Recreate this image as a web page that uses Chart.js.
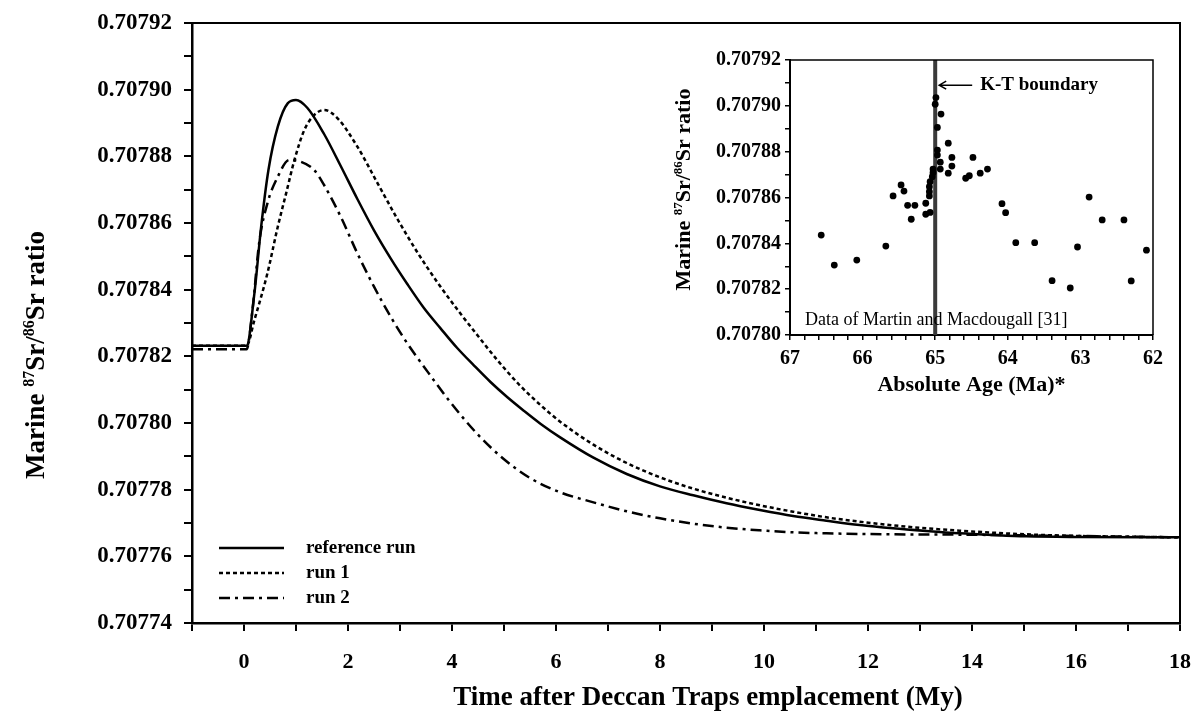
<!DOCTYPE html>
<html><head><meta charset="utf-8">
<script src="https://cdn.jsdelivr.net/npm/chart.js@4.4.1/dist/chart.umd.min.js"></script>
<style>
html,body{margin:0;padding:0;background:#fff;}
#wrap{position:relative;width:1196px;height:721px;overflow:hidden;background:#fff;}
#main{position:absolute;left:0;top:0;}
#inset{position:absolute;left:665px;top:40px;}
</style></head><body>
<div id="wrap"><canvas id="main" width="1196" height="721"></canvas><canvas id="inset" width="520" height="360"></canvas></div>
<script>
// ---------- main chart data ----------
const refX = [-1, 0.05, 0.2, 0.33, 0.47, 0.65, 0.84, 1.0, 1.22, 1.54, 1.86, 2.18, 2.5, 2.82, 3.14, 3.46, 3.78, 4.1, 4.42, 4.74, 5.06, 5.38, 5.7, 6.08, 6.72, 7.36, 8.0, 8.64, 9.28, 9.92, 10.56, 11.2, 11.84, 12.48, 13.12, 13.76, 14.4, 15.04, 16.07, 18];
const refY = [0.7078232, 0.7078232, 0.7078389, 0.7078589, 0.7078759, 0.7078889, 0.7078959, 0.7078969, 0.7078945, 0.7078867, 0.7078771, 0.7078672, 0.7078578, 0.7078494, 0.7078417, 0.7078345, 0.7078284, 0.7078225, 0.7078173, 0.7078123, 0.7078078, 0.7078037, 0.7077998, 0.7077957, 0.7077896, 0.7077847, 0.7077810, 0.7077783, 0.7077759, 0.7077739, 0.7077721, 0.7077707, 0.7077694, 0.7077684, 0.7077676, 0.7077669, 0.7077664, 0.7077660, 0.7077658, 0.7077657];
const run1X = [-1, 0.05, 0.2, 0.45, 0.65, 0.81, 0.97, 1.16, 1.35, 1.54, 1.8, 2.18, 2.57, 2.95, 3.33, 3.72, 4.1, 4.49, 4.87, 5.28, 5.7, 6.08, 6.72, 7.36, 8.0, 8.64, 9.28, 9.92, 10.56, 11.2, 11.84, 12.48, 13.12, 13.76, 14.4, 15.04, 16.07, 18];
const run1Y = [0.7078232, 0.7078232, 0.7078309, 0.7078449, 0.7078589, 0.7078689, 0.7078789, 0.7078879, 0.7078924, 0.7078939, 0.7078914, 0.7078829, 0.7078719, 0.7078612, 0.7078513, 0.7078422, 0.7078341, 0.7078263, 0.7078189, 0.7078117, 0.7078054, 0.7078004, 0.7077935, 0.7077880, 0.7077837, 0.7077803, 0.7077776, 0.7077753, 0.7077734, 0.7077717, 0.7077704, 0.7077693, 0.7077684, 0.7077677, 0.7077671, 0.7077666, 0.7077661, 0.7077657];
const run2X = [-1, 0.05, 0.17, 0.29, 0.45, 0.65, 0.87, 1.09, 1.35, 1.54, 1.86, 2.18, 2.5, 2.82, 3.14, 3.46, 4.0, 4.5, 5.0, 5.5, 6.08, 6.72, 7.36, 8.0, 8.64, 9.28, 9.92, 10.56, 11.2, 12.48, 13.76, 16.07, 18];
const run2Y = [0.7078221, 0.7078221, 0.7078349, 0.7078539, 0.7078659, 0.7078739, 0.7078789, 0.7078784, 0.7078759, 0.7078714, 0.7078619, 0.7078509, 0.7078409, 0.7078319, 0.7078239, 0.7078169, 0.7078056, 0.7077965, 0.7077891, 0.7077835, 0.7077792, 0.7077762, 0.7077735, 0.7077714, 0.7077698, 0.7077686, 0.7077678, 0.7077672, 0.7077669, 0.7077666, 0.7077665, 0.7077661, 0.7077657];
const seriesNames = ['reference run', 'run 1', 'run 2'];

const mainXTicks = [-1, 0, 1, 2, 3, 4, 5, 6, 7, 8, 9, 10, 11, 12, 13, 14, 15, 16, 17, 18];
const mainXLabels = ['0', '2', '4', '6', '8', '10', '12', '14', '16', '18'];
const mainYTicks = [0.70774, 0.70775, 0.70776, 0.70777, 0.70778, 0.70779, 0.70780, 0.70781, 0.70782, 0.70783, 0.70784, 0.70785, 0.70786, 0.70787, 0.70788, 0.70789, 0.70790, 0.70791, 0.70792];
const mainYLabels = ['0.70774', '0.70776', '0.70778', '0.70780', '0.70782', '0.70784', '0.70786', '0.70788', '0.70790', '0.70792'];

// ---------- inset data (Martin and Macdougall) ----------
const martinAge = [66.57, 66.39, 66.08, 65.68, 65.58, 65.47, 65.43, 65.38, 65.33, 65.28, 65.13, 65.13, 65.07, 65.08, 65.08, 65.08, 65.07, 65.04, 65.03, 65.03, 64.99, 65.0, 64.92, 64.97, 64.97, 64.97, 64.93, 64.93, 64.82, 64.82, 64.77, 64.77, 64.58, 64.53, 64.48, 64.38, 64.28, 64.08, 64.03, 63.89, 63.63, 63.39, 63.14, 63.04, 62.88, 62.70, 62.40, 62.30, 62.09];
const martinSr = [0.7078436, 0.7078305, 0.7078327, 0.7078388, 0.7078607, 0.7078655, 0.7078628, 0.7078566, 0.7078505, 0.7078566, 0.7078575, 0.7078527, 0.7078535, 0.7078607, 0.7078625, 0.7078647, 0.7078669, 0.7078691, 0.7078708, 0.7078724, 0.7079036, 0.7079007, 0.7078964, 0.7078906, 0.7078807, 0.7078785, 0.7078754, 0.7078724, 0.7078837, 0.7078706, 0.7078775, 0.7078737, 0.7078684, 0.7078695, 0.7078775, 0.7078706, 0.7078724, 0.7078573, 0.7078534, 0.7078403, 0.7078403, 0.7078237, 0.7078205, 0.7078384, 0.7078602, 0.7078502, 0.7078502, 0.7078236, 0.707837];
const ktAge = [65, 65];
const ktSr = [0.70780, 0.70792];
const ktLabelSr = 0.707909;

const insetXTicks = [62, 62.2, 62.4, 62.6, 62.8, 63, 63.2, 63.4, 63.6, 63.8, 64, 64.2, 64.4, 64.6, 64.8, 65, 65.2, 65.4, 65.6, 65.8, 66, 66.2, 66.4, 66.6, 66.8, 67];
const insetXLabels = ['62', '63', '64', '65', '66', '67'];
const insetYTicks = [0.70780, 0.70781, 0.70782, 0.70783, 0.70784, 0.70785, 0.70786, 0.70787, 0.70788, 0.70789, 0.70790, 0.70791, 0.70792];
const insetYLabels = ['0.70780', '0.70782', '0.70784', '0.70786', '0.70788', '0.70790', '0.70792'];

// ---------- texts ----------
const yTitleParts = [['Marine ', false], ['87', true], ['Sr/', false], ['86', true], ['Sr ratio', false]];
const mainXTitle = 'Time after Deccan Traps emplacement (My)';
const insetXTitle = 'Absolute Age (Ma)*';
const ktText = 'K-T boundary';
const sourceText = 'Data of Martin and Macdougall [31]';

const SERIF = "'Liberation Serif', 'Times New Roman', 'DejaVu Serif', serif";
Chart.defaults.font.family = SERIF;
Chart.defaults.color = '#000';

const pts = (xs, ys) => xs.map((x, i) => ({x: x, y: ys[i]}));
const noPad = s => { s.paddingLeft = 0; s.paddingRight = 0; s.paddingTop = 0; s.paddingBottom = 0; };

function drawSupTitle(ctx, cx, cy, size, parts) {
  ctx.save();
  ctx.translate(cx, cy);
  ctx.rotate(-Math.PI / 2);
  const big = 'bold ' + size + 'px ' + SERIF;
  const small = 'bold ' + Math.round(size * 0.58) + 'px ' + SERIF;
  let total = 0;
  parts.forEach(p => { ctx.font = p[1] ? small : big; total += ctx.measureText(p[0]).width; });
  let x = -total / 2;
  ctx.fillStyle = '#000';
  ctx.textAlign = 'left';
  ctx.textBaseline = 'alphabetic';
  const base = size * 0.34;
  parts.forEach(p => {
    ctx.font = p[1] ? small : big;
    ctx.fillText(p[0], x, p[1] ? base - size * 0.38 : base);
    x += ctx.measureText(p[0]).width;
  });
  ctx.restore();
}

function drawFrame(ctx, a, w) {
  ctx.save();
  ctx.strokeStyle = '#000';
  ctx.lineWidth = w;
  ctx.beginPath();
  ctx.moveTo(a.left, a.top);
  ctx.lineTo(a.right, a.top);
  ctx.lineTo(a.right, a.bottom);
  ctx.stroke();
  ctx.restore();
}

// ---------- main chart ----------
const lineBase = {showLine: true, pointRadius: 0, fill: false, borderColor: '#000', backgroundColor: '#000', borderWidth: 2.5, cubicInterpolationMode: 'monotone'};
const dashes = [[], [4, 3], [11, 5, 3, 5]];

const mainDecor = {
  id: 'mainDecor',
  afterDraw(chart) {
    const ctx = chart.ctx, a = chart.chartArea;
    drawFrame(ctx, a, 2);
    drawSupTitle(ctx, 35, (a.top + a.bottom) / 2 + 32, 27, yTitleParts);
    ctx.save();
    ctx.fillStyle = '#000';
    ctx.font = 'bold 27px ' + SERIF;
    ctx.textAlign = 'center';
    ctx.textBaseline = 'middle';
    ctx.fillText(mainXTitle, (a.left + a.right) / 2 + 22, 698);
    // legend
    ctx.font = 'bold 19px ' + SERIF;
    ctx.textAlign = 'left';
    chart.data.datasets.forEach((ds, i) => {
      const y = a.bottom - 75 + i * 25;
      ctx.strokeStyle = ds.borderColor;
      ctx.lineWidth = ds.borderWidth;
      ctx.setLineDash(ds.borderDash || []);
      ctx.beginPath();
      ctx.moveTo(a.left + 27, y);
      ctx.lineTo(a.left + 92, y);
      ctx.stroke();
      ctx.setLineDash([]);
      ctx.fillText(ds.label, a.left + 114, y);
    });
    ctx.restore();
  }
};

new Chart(document.getElementById('main'), {
  type: 'line',
  data: {
    datasets: [
      Object.assign({label: seriesNames[0], data: pts(refX, refY), borderDash: dashes[0]}, lineBase),
      Object.assign({label: seriesNames[1], data: pts(run1X, run1Y), borderDash: dashes[1]}, lineBase),
      Object.assign({label: seriesNames[2], data: pts(run2X, run2Y), borderDash: dashes[2]}, lineBase)
    ]
  },
  options: {
    responsive: false,
    animation: false,
    layout: {padding: {top: 23, right: 16, bottom: 0, left: 0}},
    plugins: {legend: {display: false}, tooltip: {enabled: false}},
    scales: {
      x: {
        type: 'linear', min: -1, max: 18,
        afterBuildTicks: s => { s.ticks = mainXTicks.map(v => ({value: v})); },
        afterFit: s => { s.height = 98; noPad(s); },
        ticks: {autoSkip: false, maxRotation: 0, padding: 18, font: {size: 22, weight: 'bold'},
          callback: v => mainXLabels.includes(String(v)) ? String(v) : ''},
        grid: {drawOnChartArea: false, drawTicks: true, tickLength: 8, color: '#000', lineWidth: 2},
        border: {display: true, color: '#000', width: 2.5}
      },
      y: {
        type: 'linear', min: 0.70774, max: 0.70792,
        afterBuildTicks: s => { s.ticks = mainYTicks.map(v => ({value: v})); },
        afterFit: s => { s.width = 192; noPad(s); },
        ticks: {autoSkip: false, padding: 12, font: {size: 23, weight: 'bold'},
          callback: v => { const t = Number(v).toFixed(5); return mainYLabels.includes(t) ? t : ''; }},
        grid: {drawOnChartArea: false, drawTicks: true, tickLength: 8, color: '#000', lineWidth: 2},
        border: {display: true, color: '#000', width: 2.5}
      }
    }
  },
  plugins: [mainDecor]
});

// ---------- inset chart ----------
const insetDecor = {
  id: 'insetDecor',
  afterDraw(chart) {
    const ctx = chart.ctx, a = chart.chartArea;
    const xs = chart.scales.x, ys = chart.scales.y;
    drawFrame(ctx, a, 1.5);
    drawSupTitle(ctx, 18, (a.top + a.bottom) / 2 - 8, 22, yTitleParts);
    ctx.save();
    ctx.fillStyle = '#000';
    ctx.strokeStyle = '#000';
    ctx.font = 'bold 22px ' + SERIF;
    ctx.textAlign = 'center';
    ctx.textBaseline = 'middle';
    ctx.fillText(insetXTitle, (a.left + a.right) / 2, 345);
    // K-T arrow and label
    const tipX = xs.getPixelForValue(ktAge[0]) + 4;
    const ty = ys.getPixelForValue(ktLabelSr);
    ctx.lineWidth = 1.5;
    ctx.beginPath();
    ctx.moveTo(tipX, ty); ctx.lineTo(tipX + 33, ty);
    ctx.moveTo(tipX + 7, ty - 4); ctx.lineTo(tipX, ty); ctx.lineTo(tipX + 7, ty + 4);
    ctx.stroke();
    ctx.font = 'bold 19px ' + SERIF;
    ctx.textAlign = 'left';
    ctx.fillText(ktText, tipX + 41, ty);
    ctx.font = '18px ' + SERIF;
    ctx.fillText(sourceText, a.left + 15, a.bottom - 15);
    ctx.restore();
  }
};

new Chart(document.getElementById('inset'), {
  type: 'scatter',
  data: {
    datasets: [
      {label: 'Martin and Macdougall', data: pts(martinAge, martinSr), pointRadius: 3.4, pointBackgroundColor: '#000', pointBorderWidth: 0, showLine: false, order: 0},
      {type: 'line', label: 'K-T boundary', data: pts(ktAge, ktSr), borderColor: '#3a3a3a', borderWidth: 4, pointRadius: 0, fill: false, order: 1}
    ]
  },
  options: {
    responsive: false,
    animation: false,
    layout: {padding: {top: 20, right: 32, bottom: 0, left: 0}},
    plugins: {legend: {display: false}, tooltip: {enabled: false}},
    scales: {
      x: {
        type: 'linear', min: 62, max: 67, reverse: true,
        afterBuildTicks: s => { s.ticks = insetXTicks.map(v => ({value: v})); },
        afterFit: s => { s.height = 65; noPad(s); },
        ticks: {autoSkip: false, maxRotation: 0, padding: 7, font: {size: 20, weight: 'bold'},
          callback: v => { const t = String(Math.round(v * 10) / 10); return insetXLabels.includes(t) ? t : ''; }},
        grid: {drawOnChartArea: false, drawTicks: true, tickLength: 5, color: '#000', lineWidth: 1.5},
        border: {display: true, color: '#000', width: 2}
      },
      y: {
        type: 'linear', min: 0.70780, max: 0.70792,
        afterBuildTicks: s => { s.ticks = insetYTicks.map(v => ({value: v})); },
        afterFit: s => { s.width = 125; noPad(s); },
        ticks: {autoSkip: false, padding: 4, font: {size: 20, weight: 'bold'},
          callback: v => { const t = Number(v).toFixed(5); return insetYLabels.includes(t) ? t : ''; }},
        grid: {drawOnChartArea: false, drawTicks: true, tickLength: 5, color: '#000', lineWidth: 1.5},
        border: {display: true, color: '#000', width: 2}
      }
    }
  },
  plugins: [insetDecor]
});
</script>
</body></html>
